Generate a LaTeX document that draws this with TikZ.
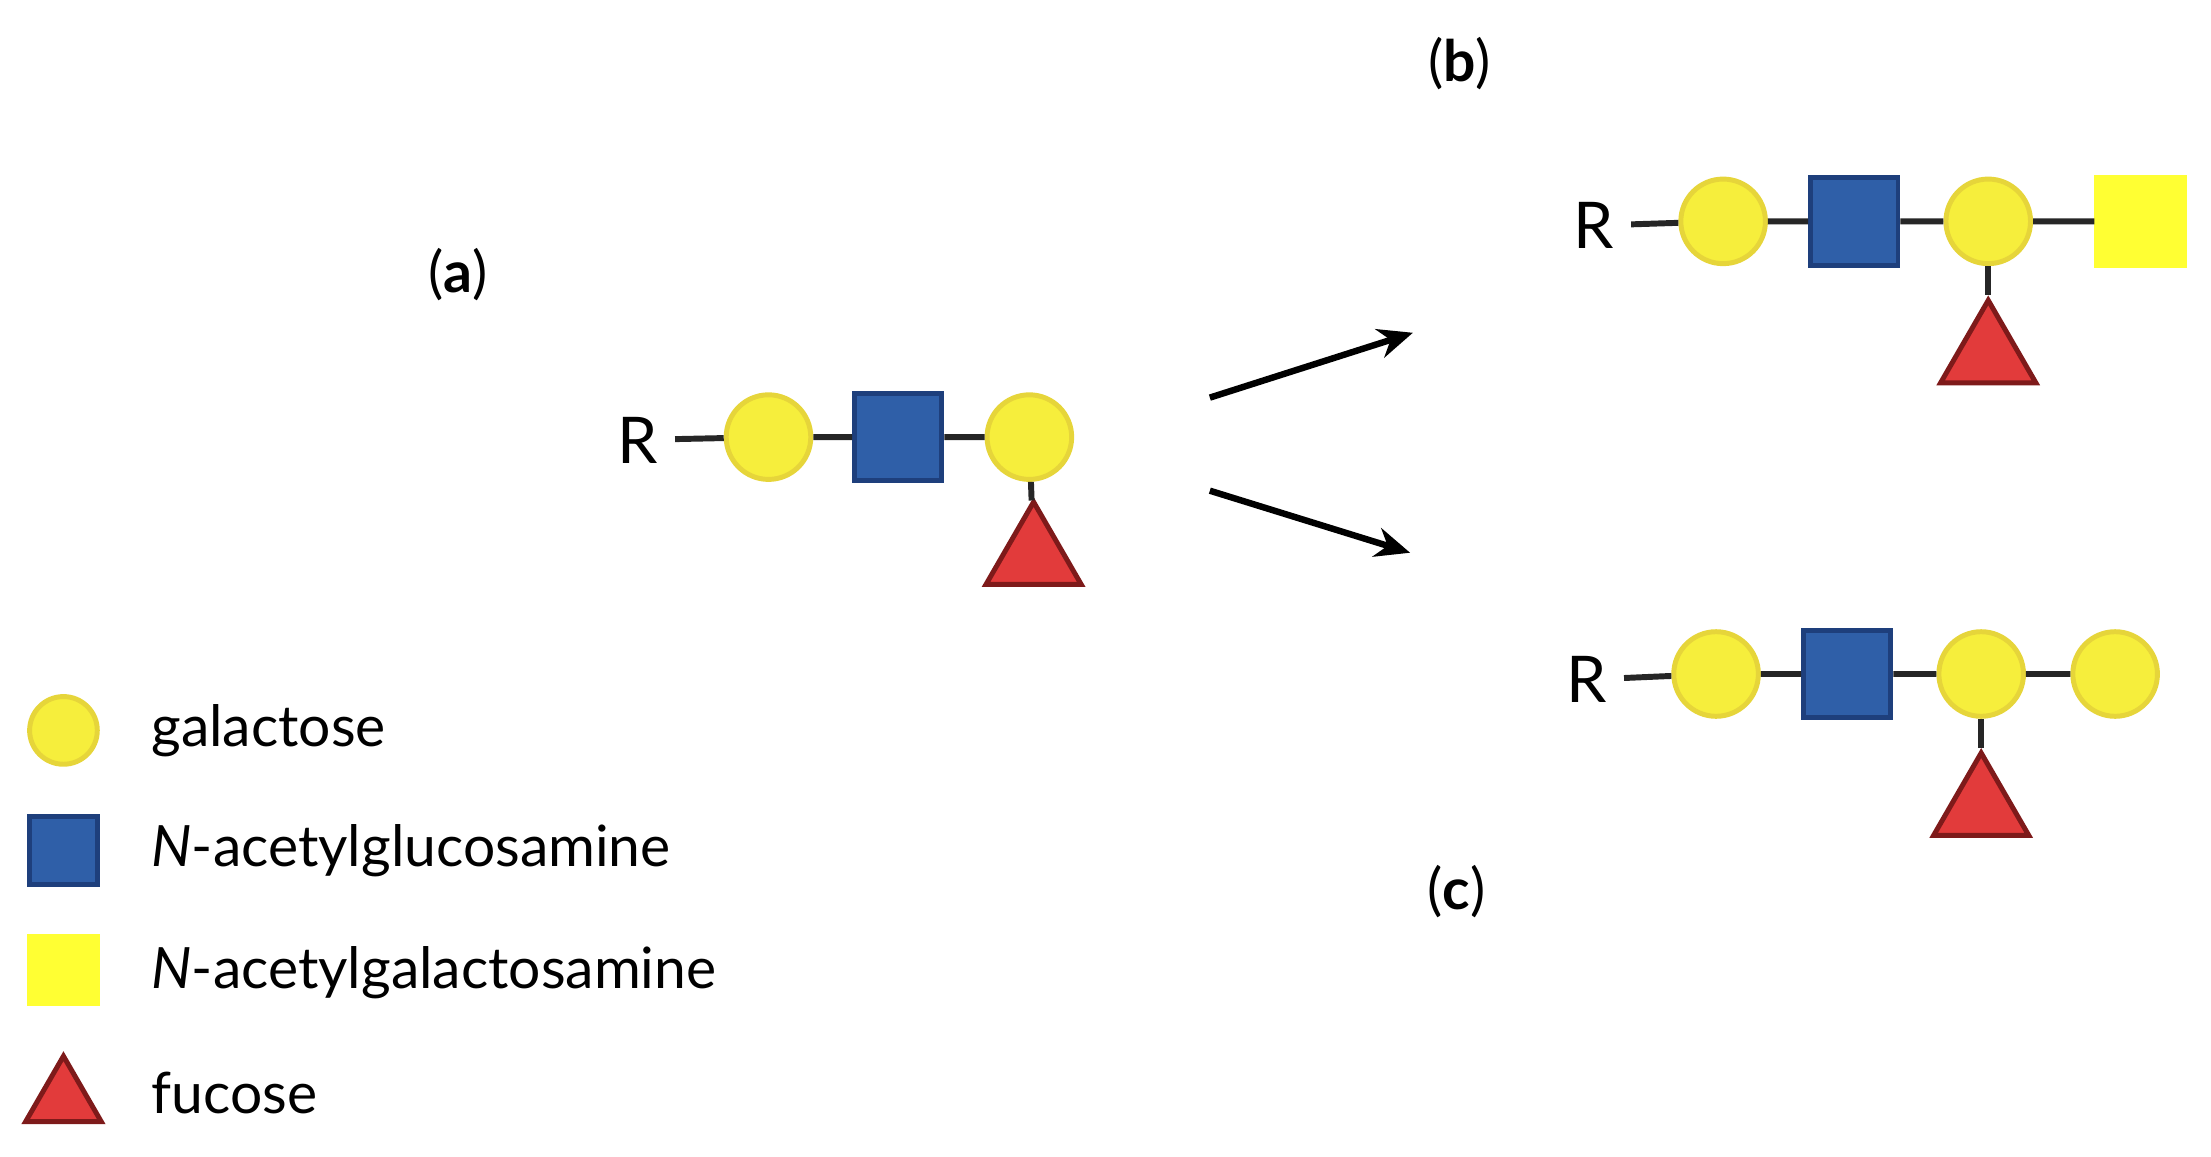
\documentclass[tikz,border=0pt]{standalone}
\usepackage{fontspec}
\setmainfont{Lato}
\usetikzlibrary{shapes.geometric,arrows.meta}
\definecolor{galyel}{HTML}{F6EE3C}
\definecolor{galedge}{HTML}{E6D53A}
\definecolor{glcblue}{HTML}{2F5FA8}
\definecolor{glcedge}{HTML}{1E3F7C}
\definecolor{nagyel}{HTML}{FFFF33}
\definecolor{fucred}{HTML}{E23B3B}
\definecolor{fucedge}{HTML}{7E1A1A}
\tikzset{
    gal/.style={circle, fill=galyel, draw=galedge, line width=1pt, minimum size=0.6cm, inner sep=0pt},
    glc/.style={rectangle, fill=glcblue, draw=glcedge, line width=1pt, minimum size=0.62cm, inner sep=0pt},
    nag/.style={rectangle, fill=nagyel, draw=nagyel, line width=1pt, minimum size=0.62cm, inner sep=0pt},
    fuc/.style={regular polygon, regular polygon sides=3, fill=fucred, draw=fucedge, line width=1pt, minimum size=0.78cm, inner sep=0pt},
    key/.style={minimum size=0.48cm},
    bond/.style={line width=1.2pt, black!85},
    lbl/.style={font=\fontsize{11.5}{13}\selectfont},
    rlbl/.style={font=\fontsize{13}{15}\selectfont}
}
\begin{document}
\begin{tikzpicture}
    \useasboundingbox (0,0) rectangle (15.68,8.2);
    % chain (a)
    \node[lbl] (la) at (3.25,6.25) {(\textbf{a})};
    \node[rlbl] (ra) at (4.52,5.08) {R};
    \node[gal] (ga1) at (5.45,5.1) {};
    \node[glc] (na1) at (6.37,5.1) {};
    \node[gal] (ga2) at (7.30,5.1) {};
    \node[fuc] (fa1) at (7.33,4.25) {};
    \draw[bond] (ra) -- (ga1) -- (na1) -- (ga2);
    \draw[bond] (ga2) -- (fa1);
    % arrows
    \coordinate (a1s) at (8.58,5.38);
    \coordinate (a1e) at (10.02,5.84);
    \coordinate (a2s) at (8.58,4.72);
    \coordinate (a2e) at (10.00,4.28);
    \draw[line width=1.3pt, -{Stealth[length=7pt,width=6pt]}] (a1s) -- (a1e);
    \draw[line width=1.3pt, -{Stealth[length=7pt,width=6pt]}] (a2s) -- (a2e);
    % chain (b)
    \node[lbl] (lb) at (10.35,7.75) {(\textbf{b})};
    \node[rlbl] (rb) at (11.30,6.6) {R};
    \node[gal] (gb1) at (12.22,6.63) {};
    \node[glc] (nb1) at (13.15,6.63) {};
    \node[gal] (gb2) at (14.10,6.63) {};
    \node[nag] (yb1) at (15.18,6.63) {};
    \node[fuc] (fb1) at (14.10,5.68) {};
    \draw[bond] (rb) -- (gb1) -- (nb1) -- (gb2) -- (yb1);
    \draw[bond] (gb2) -- (fb1);
    % chain (c)
    \node[rlbl] (rc) at (11.25,3.38) {R};
    \node[gal] (gc1) at (12.17,3.42) {};
    \node[glc] (nc1) at (13.10,3.42) {};
    \node[gal] (gc2) at (14.05,3.42) {};
    \node[gal] (gc3) at (15.00,3.42) {};
    \node[fuc] (fc1) at (14.05,2.47) {};
    \draw[bond] (rc) -- (gc1) -- (nc1) -- (gc2) -- (gc3);
    \draw[bond] (gc2) -- (fc1);
    \node[lbl] (lc) at (10.33,1.88) {(\textbf{c})};
    % legend
    \node[gal, key] (kg) at (0.45,3.02) {};
    \node[glc, key] (kn) at (0.45,2.17) {};
    \node[nag, key] (ky) at (0.45,1.32) {};
    \node[fuc, minimum size=0.62cm] (kf) at (0.45,0.4) {};
    \node[lbl, anchor=west] (tg) at (0.95,3.02) {galactose};
    \node[lbl, anchor=west] (tn) at (0.95,2.17) {\textit{N}-acetylglucosamine};
    \node[lbl, anchor=west] (ty) at (0.95,1.30) {\textit{N}-acetylgalactosamine};
    \node[lbl, anchor=west] (tf) at (0.95,0.45) {fucose};
\end{tikzpicture}
\end{document}
